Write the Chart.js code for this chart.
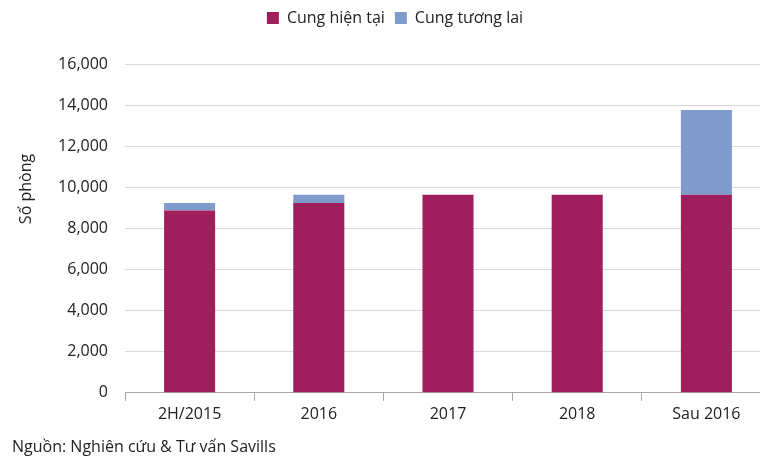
<!DOCTYPE html>
<html>
<head>
<meta charset="utf-8">
<script src="https://cdn.jsdelivr.net/npm/chart.js@4/dist/chart.umd.min.js"></script>
<style>
  html, body { margin: 0; padding: 0; background: #fff; overflow: hidden; }
  #wrap { position: relative; width: 760px; height: 460px; overflow: hidden; }
</style>
</head>
<body>
<!-- canvas is a bit wider than the window: the last category runs past the right edge -->
<div id="wrap"><canvas id="chart" width="771" height="460"></canvas></div>
<script>
// chart data
var categories = ['2H/2015', '2016', '2017', '2018', 'Sau 2016'];
var currentSupply = [8870, 9230, 9640, 9640, 9640];
var futureSupply = [360, 410, 0, 0, 4120];
var yTitle = 'Số phòng';
var sourceNote = 'Nguồn: Nghiên cứu & Tư vấn Savills';

var fontFamily = '"Open Sans", "Noto Sans", sans-serif';

// draws the y title and the source line
var textPlugin = {
    id: 'extraText',
    afterDraw: function(chart) {
        var ctx = chart.ctx;
        ctx.save();
        ctx.font = '16px ' + fontFamily;
        ctx.fillStyle = '#222';
        ctx.textBaseline = 'middle';
        ctx.fillText(sourceNote, 12, 447);
        ctx.translate(26, 189);
        ctx.rotate(-Math.PI / 2);
        ctx.textAlign = 'center';
        ctx.fillText(yTitle, 0, 0);
        ctx.restore();
    }
};

// extra gap under the legend
var legendGap = {
    id: 'legendGap',
    beforeInit: function(chart) {
        var fit = chart.legend.fit;
        chart.legend.fit = function() {
            fit.call(this);
            this.height += 28;
        };
    }
};

var ctx = document.getElementById('chart').getContext('2d');
var chart = new Chart(ctx, {
    type: 'bar',
    data: {
        labels: categories,
        datasets: [{
            label: 'Cung hiện tại',
            data: currentSupply,
            backgroundColor: '#9E1F5C',
            barPercentage: 0.79,
            categoryPercentage: 0.5
        }, {
            label: 'Cung tương lai',
            data: futureSupply,
            backgroundColor: '#7F9BCC',
            barPercentage: 0.79,
            categoryPercentage: 0.5
        }]
    },
    options: {
        responsive: false,
        animation: false,
        layout: { padding: { left: 19, right: 0, top: 0, bottom: 32 } },
        plugins: {
            legend: {
                position: 'top',
                labels: {
                    boxWidth: 12,
                    boxHeight: 12,
                    padding: 10,
                    color: '#222',
                    font: { family: fontFamily, size: 16 }
                }
            },
            tooltip: { enabled: false }
        },
        scales: {
            x: {
                stacked: true,
                grid: {
                    display: true,
                    drawOnChartArea: false,
                    offset: true,
                    tickLength: 8,
                    color: '#a6a6a6'
                },
                border: { color: '#a6a6a6' },
                ticks: {
                    color: '#222',
                    padding: 4,
                    font: { family: fontFamily, size: 16 }
                }
            },
            y: {
                stacked: true,
                min: 0,
                max: 16000,
                afterFit: function(scale) { scale.width = 106; },
                ticks: {
                    stepSize: 2000,
                    color: '#222',
                    padding: 17,
                    font: { family: fontFamily, size: 16 },
                    callback: function(v) { return v.toLocaleString('en-US'); }
                },
                grid: { color: '#d9d9d9', drawTicks: false },
                border: { display: false }
            }
        }
    },
    plugins: [textPlugin, legendGap]
});
</script>
</body>
</html>
